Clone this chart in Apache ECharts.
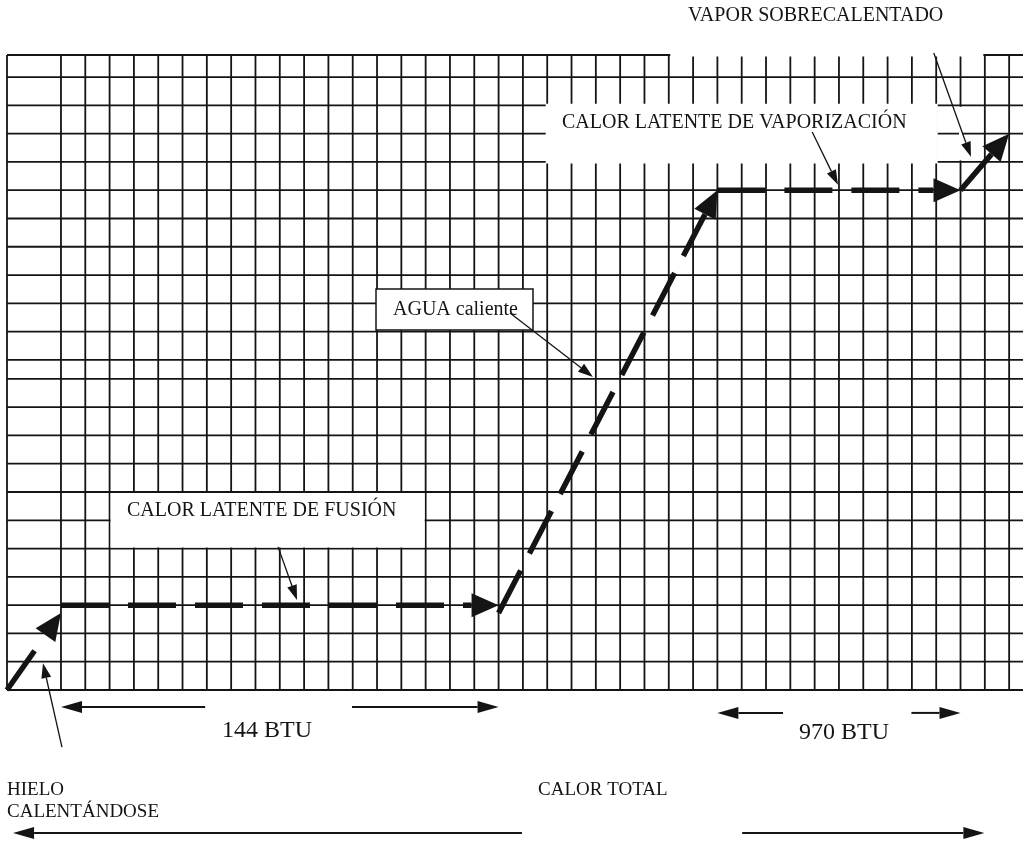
<!DOCTYPE html>
<html>
<head>
<meta charset="utf-8">
<title>Calor latente</title>
<script src="https://cdn.jsdelivr.net/npm/echarts@6/dist/echarts.min.js"></script>
<style>
    html, body { margin: 0; padding: 0; background: #fff; }
    #main { width: 1023px; height: 841px; }
</style>
</head>
<body>
<div id="main"></div>
<script type="application/javascript">
    // cuadricula: posiciones de las lineas (columnas / filas del papel)
    var columnas = [-2.22, 0, 1, 2, 3, 4, 5, 6, 7, 8, 9, 10, 11, 12, 13, 14, 15, 16, 17, 18, 19,
        20, 21, 22, 23, 24, 25, 26, 27, 28, 29, 30, 31, 32, 33, 34, 35, 36, 37, 38, 39];
    var filas = [0, 1, 2, 3, 4, 5, 6, 7, 8, 9, 10, 11, 11.67, 12.67, 13.67, 14.67, 15.67,
        16.67, 17.67, 18.67, 19.67, 20.67, 21.67, 22.45];

    // tramos de la curva de calentamiento (inicio -> fin)
    var tramoX0 = [-2.22, 0, 18, 27, 37];
    var tramoY0 = [0, 3, 2.72, 17.67, 17.67];
    var tramoX1 = [0, 18, 27, 37, 39];
    var tramoY1 = [2.72, 3, 17.67, 17.67, 19.67];

    // flechas finas de las etiquetas: [x0, y0, x1, y1]
    var senales = [
        [35.9, 22.52, 37.43, 18.85],
        [30.9, 19.73, 31.96, 17.86],
        [18.47, 13.33, 21.88, 11.07],
        [8.93, 5.06, 9.71, 3.18],
        [0.04, -2.02, -0.74, 0.95]
    ];

    // cotas bajo el papel: [cola, punta, y]
    var cotas = [
        [5.93, 0, -0.6], [11.97, 18, -0.6],
        [29.7, 27, -0.81], [34.98, 37, -0.81],
        [18.96, -1.97, -5.06], [28.02, 37.98, -5.06]
    ];

    // zonas del papel sin lineas (cuadros de texto): [x0, x1, y0, y1, margenX, margenY]
    var huecos = [
        [2, 15, 5, 7, -1, -1],
        [20, 36, 18.67, 20.67, 1.5, 1.5],
        [37, 37, 18.67, 20.67, 1.5, -1.5],
        [25, 38, 22.45, 22.45, -1.5, 1.5]
    ];

    var X_MIN = -2.22, X_MAX = 39.57, Y_MIN = 0, Y_MAX = 22.45;
    var TINTA = '#141414';
    var SERIF = '"Liberation Serif", "DejaVu Serif", serif';

    var chart = echarts.init(document.getElementById('main'));

    function flecha(largo, ancho, grosor, guiones) {
        return function (params, api) {
            var a = api.coord([api.value(0), api.value(1)]);
            var b = api.coord([api.value(2), api.value(3)]);
            var dx = b[0] - a[0], dy = b[1] - a[1];
            var len = Math.sqrt(dx * dx + dy * dy);
            var ux = dx / len, uy = dy / len;
            var bx = b[0] - ux * largo, by = b[1] - uy * largo;
            return {
                type: 'group',
                children: [
                    {
                        type: 'line',
                        shape: { x1: a[0], y1: a[1], x2: bx, y2: by },
                        style: { stroke: TINTA, lineWidth: grosor, lineDash: guiones, lineCap: 'butt' }
                    },
                    {
                        type: 'polygon',
                        shape: { points: [[b[0], b[1]], [bx - uy * ancho, by + ux * ancho], [bx + uy * ancho, by - ux * ancho]] },
                        style: { fill: TINTA }
                    }
                ]
            };
        };
    }

    function texto(t, x, y, size) {
        return {
            type: 'text', x: x, y: y, z: 5, silent: true,
            style: { text: t, fill: TINTA, font: size + 'px ' + SERIF, align: 'left', verticalAlign: 'middle' }
        };
    }

    var option = {};
    option.backgroundColor = '#fff';
    option.animation = false;
    option.grid = { left: 7, right: 0, top: 55, bottom: 151 };
    option.xAxis = { type: 'value', min: X_MIN, max: X_MAX, show: false };
    option.yAxis = { type: 'value', min: Y_MIN, max: Y_MAX, show: false };
    option.series = [
        {
            // lineas verticales
            type: 'custom', z: 1, silent: true, clip: false,
            data: columnas.map(function (c) { return [c, 0]; }),
            renderItem: function (params, api) {
                var p0 = api.coord([api.value(0), Y_MIN]);
                var p1 = api.coord([api.value(0), Y_MAX]);
                return { type: 'line', shape: { x1: p0[0], y1: p0[1], x2: p1[0], y2: p1[1] },
                    style: { stroke: TINTA, lineWidth: 1.8 } };
            }
        },
        {
            // lineas horizontales
            type: 'custom', z: 1, silent: true, clip: false,
            data: filas.map(function (f) { return [0, f]; }),
            renderItem: function (params, api) {
                var p0 = api.coord([X_MIN, api.value(1)]);
                var p1 = api.coord([X_MAX, api.value(1)]);
                return { type: 'line', shape: { x1: p0[0], y1: p0[1], x2: p1[0], y2: p1[1] },
                    style: { stroke: TINTA, lineWidth: 1.8 } };
            }
        },
        {
            // recortes blancos del papel
            type: 'custom', z: 2, silent: true, clip: false,
            data: huecos,
            renderItem: function (params, api) {
                var p0 = api.coord([api.value(0), api.value(3)]);
                var p1 = api.coord([api.value(1), api.value(2)]);
                var mx = api.value(4), my = api.value(5);
                return { type: 'rect',
                    shape: { x: p0[0] - mx, y: p0[1] - my, width: p1[0] - p0[0] + 2 * mx, height: p1[1] - p0[1] + 2 * my },
                    style: { fill: '#fff' } };
            }
        },
        {
            // curva de calentamiento
            type: 'custom', z: 10, silent: true, clip: false,
            data: tramoX0.map(function (x, i) { return [x, tramoY0[i], tramoX1[i], tramoY1[i]]; }),
            renderItem: flecha(27, 12, 5.5, [48, 19])
        },
        {
            type: 'custom', z: 10, silent: true, clip: false,
            data: senales,
            renderItem: flecha(15, 5, 1.3, null)
        },
        {
            type: 'custom', z: 10, silent: true, clip: false,
            data: cotas.map(function (c) { return [c[0], c[2], c[1], c[2]]; }),
            renderItem: flecha(21, 6, 2, null)
        }
    ];
    option.graphic = [
        texto('VAPOR SOBRECALENTADO', 688, 16, 20),
        texto('CALOR LATENTE DE VAPORIZACIÓN', 562, 123, 20),
        {
            type: 'rect', z: 5, silent: true,
            shape: { x: 376, y: 289, width: 157, height: 41 },
            style: { fill: '#fff', stroke: TINTA, lineWidth: 1.5 }
        },
        texto('AGUA caliente', 393, 310, 20),
        texto('CALOR LATENTE DE FUSIÓN', 127, 511, 20),
        texto('144 BTU', 222, 731, 24),
        texto('970 BTU', 799, 733, 24),
        texto('HIELO', 7, 790, 19),
        texto('CALENTÁNDOSE', 7, 812, 19),
        texto('CALOR TOTAL', 538, 790, 19)
    ];
    chart.setOption(option);
</script>
</body>
</html>
